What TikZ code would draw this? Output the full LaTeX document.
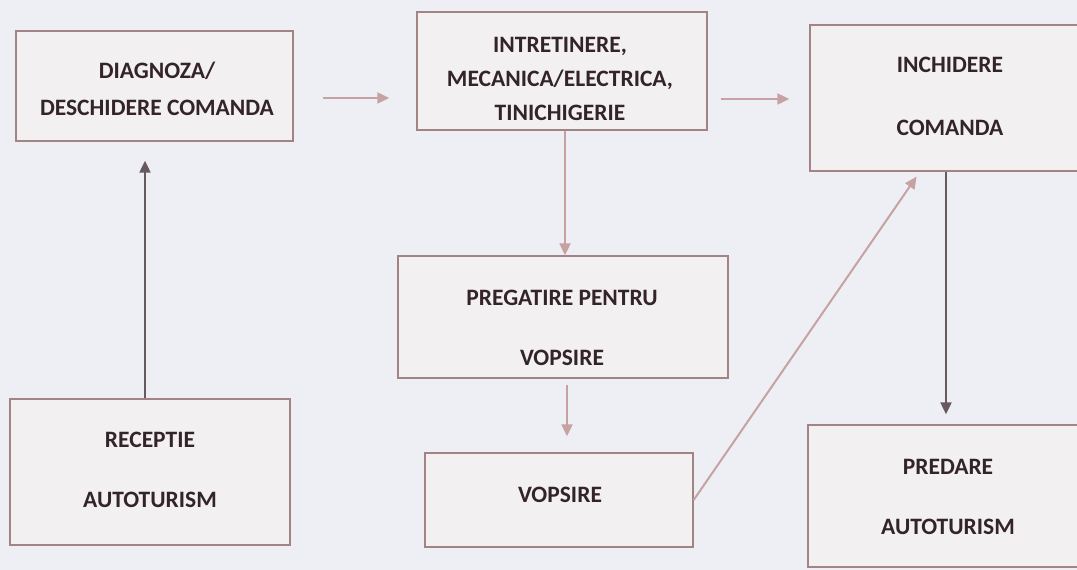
\documentclass[tikz,border=0pt]{standalone}
\usepackage{fontspec}
\setmainfont{Carlito}
\usepackage{tikz}
\usetikzlibrary{arrows.meta}
\usetikzlibrary{positioning}

\definecolor{paper}{HTML}{EEEFF4}
\definecolor{boxfill}{HTML}{F3F0F2}
\definecolor{boxline}{HTML}{A38485}
\definecolor{ink}{HTML}{33242A}
\definecolor{pinkarrow}{HTML}{C6A2A2}
\definecolor{darkarrow}{HTML}{665A5F}

\begin{document}
\begin{tikzpicture}[x=1pt, y=-1pt,
    stage/.style={draw=boxline, line width=1.3pt, fill=boxfill, inner sep=0pt},
    caption/.style={text=ink, font=\fontsize{23.5}{36}\selectfont\bfseries,
        align=center, inner sep=0pt},
    flow/.style={pinkarrow, line width=2pt, -{Triangle[length=12pt, width=11pt]}},
    darkflow/.style={darkarrow, line width=2pt, -{Triangle[length=12pt, width=11pt]}}]

    % Draw the page
    \fill[paper] (0,0) rectangle (1077,570);
    \useasboundingbox (0,0) rectangle (1077,570);

    % Draw the stages
    \node[stage, minimum width=277pt, minimum height=110pt] (diag) at (154.5,86) {};
    \node[stage, minimum width=290pt, minimum height=118pt] (intr) at (562,71) {};
    \node[stage, minimum width=280pt, minimum height=146pt] (inch) at (950,98) {};
    \node[stage, minimum width=330pt, minimum height=122pt] (preg) at (563,317) {};
    \node[stage, minimum width=268pt, minimum height=94pt] (vops) at (559,500) {};
    \node[stage, minimum width=280pt, minimum height=146pt] (rece) at (150,472) {};
    \node[stage, minimum width=282pt, minimum height=142pt] (pred) at (949,496) {};

    % Add the texts
    \node[caption] (diagtext) at (157,89) {DIAGNOZA/\\[1pt]DESCHIDERE COMANDA};
    \node[caption] (intrtext) at (560,79) {INTRETINERE,\\[-2pt]MECANICA/ELECTRICA,\\[-2pt]TINICHIGERIE};
    \node[caption] (inchtext) at (950,96) {INCHIDERE\\[27pt]COMANDA};
    \node[caption] (pregtext) at (562,328) {PREGATIRE PENTRU\\[24pt]VOPSIRE};
    \node[caption] (vopstext) at (560,495) {VOPSIRE};
    \node[caption] (recetext) at (150,470) {RECEPTIE\\[24pt]AUTOTURISM};
    \node[caption] (predtext) at (948,497) {PREDARE\\[24pt]AUTOTURISM};

    % Draw the arrows
    \draw[flow, shorten <=29pt, shorten >=27pt] (diag.east |- 0,98) -- (intr.west |- 0,98);
    \draw[flow, shorten <=13pt, shorten >=20pt] (intr.east |- 0,99) -- (inch.west |- 0,99);
    \draw[flow] ([xshift=3pt]intr.south) -- ([xshift=3pt]intr.south |- preg.north);
    \draw[flow, shorten <=6pt, shorten >=16pt] ([xshift=4pt]preg.south) -- ([xshift=4pt]preg.south |- vops.north);
    \draw[darkflow, shorten >=19pt] ([xshift=-5pt]rece.north) -- ([xshift=-5pt]rece.north |- diag.south);
    \draw[flow, shorten >=6pt] (vops.east) -- ([xshift=-30pt]inch.south);
    \draw[darkflow, shorten >=10pt] ([xshift=-4pt]inch.south) -- ([xshift=-4pt]inch.south |- pred.north);

\end{tikzpicture}
\end{document}
